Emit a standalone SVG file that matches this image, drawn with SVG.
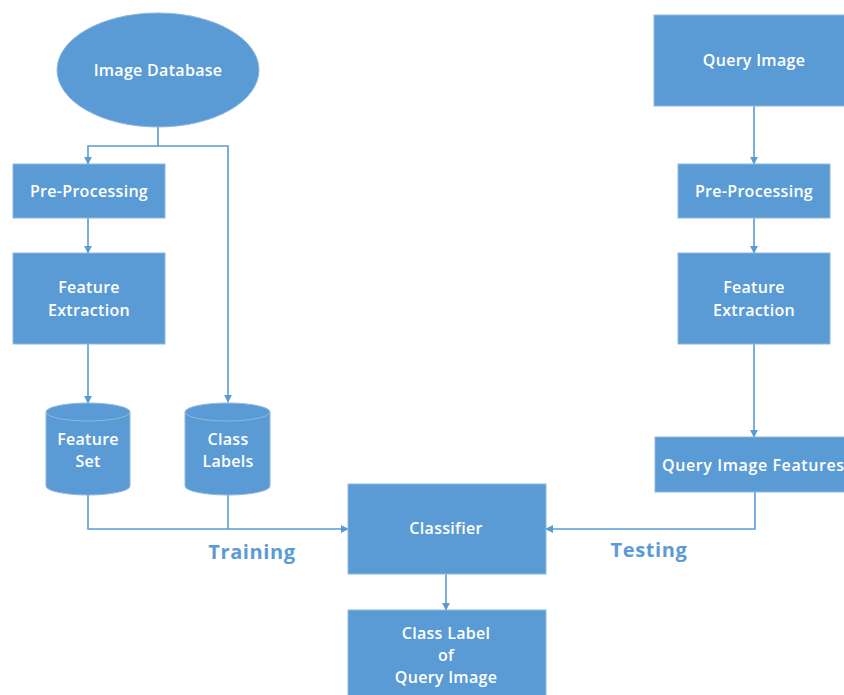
<svg xmlns="http://www.w3.org/2000/svg" width="844" height="695" viewBox="0 0 844 695">
<style>
.n{fill:#5b9bd5;stroke:#8fb8e0;stroke-width:1}
.t{fill:#ffffff;font-family:"Open Sans","Liberation Sans",sans-serif;font-size:16px;font-weight:600;letter-spacing:0.3px;text-anchor:middle}
.c{fill:none;stroke:#5b9bd5;stroke-width:1.6}
.l{fill:#5b9bd5;font-family:"Open Sans","Liberation Sans",sans-serif;font-size:20px;font-weight:700;letter-spacing:0.6px;text-anchor:middle}
</style>
<defs>
<marker id="a" viewBox="0 0 10 10" refX="9" refY="5" markerWidth="8" markerHeight="8" markerUnits="userSpaceOnUse" orient="auto">
<path d="M0,0 L10,5 L0,10 z" fill="#5b9bd5"/>
</marker>
</defs>
<rect width="844" height="695" fill="#ffffff"/>
<g id="connectors">
<path class="c" d="M158,127 V146 H88 V164" marker-end="url(#a)"/>
<path class="c" d="M158,146 H228 V402" marker-end="url(#a)"/>
<path class="c" d="M88,218 V253" marker-end="url(#a)"/>
<path class="c" d="M88,344 V403" marker-end="url(#a)"/>
<path class="c" d="M88,494 V529 H348" marker-end="url(#a)"/>
<path class="c" d="M228,494 V529"/>
<path class="c" d="M754,106 V164" marker-end="url(#a)"/>
<path class="c" d="M754,218 V253" marker-end="url(#a)"/>
<path class="c" d="M754,344 V437" marker-end="url(#a)"/>
<path class="c" d="M755,492 V529 H546" marker-end="url(#a)"/>
<path class="c" d="M446,574 V610" marker-end="url(#a)"/>
</g>
<g id="image-database">
<ellipse class="n" cx="158" cy="70" rx="101" ry="57"/>
<text class="t" x="158" y="76">Image Database</text>
</g>
<g id="pre-processing-1">
<rect class="n" x="13" y="164" width="152" height="54"/>
<text class="t" x="89" y="197">Pre-Processing</text>
</g>
<g id="feature-extraction-1">
<rect class="n" x="13" y="253" width="152" height="91"/>
<text class="t" x="89" y="293">Feature</text>
<text class="t" x="89" y="316">Extraction</text>
</g>
<g id="feature-set">
<path class="n" d="M46,412 A42,9 0 0 1 130,412 V486 A42,9 0 0 1 46,486 Z"/>
<path d="M46,412 A42,9 0 0 0 130,412" fill="none" stroke="#8fb8e0" stroke-width="1"/>
<text class="t" x="88" y="445">Feature</text>
<text class="t" x="88" y="467">Set</text>
</g>
<g id="class-labels">
<path class="n" d="M185,412 A42.5,9 0 0 1 270,412 V486 A42.5,9 0 0 1 185,486 Z"/>
<path d="M185,412 A42.5,9 0 0 0 270,412" fill="none" stroke="#8fb8e0" stroke-width="1"/>
<text class="t" x="228" y="445">Class</text>
<text class="t" x="228" y="467">Labels</text>
</g>
<g id="query-image">
<rect class="n" x="654" y="15" width="195" height="91"/>
<text class="t" x="754" y="66">Query Image</text>
</g>
<g id="pre-processing-2">
<rect class="n" x="678" y="164" width="152" height="54"/>
<text class="t" x="754" y="197">Pre-Processing</text>
</g>
<g id="feature-extraction-2">
<rect class="n" x="678" y="253" width="152" height="91"/>
<text class="t" x="754" y="293">Feature</text>
<text class="t" x="754" y="316">Extraction</text>
</g>
<g id="query-image-features">
<rect class="n" x="655" y="437" width="195" height="55"/>
<text class="t" x="662" y="471" style="text-anchor:start;letter-spacing:0.6px">Query Image Features</text>
</g>
<g id="classifier">
<rect class="n" x="348" y="484" width="198" height="90"/>
<text class="t" x="446" y="534">Classifier</text>
</g>
<g id="class-label-of-query-image">
<rect class="n" x="348" y="610" width="198" height="90"/>
<text class="t" x="446" y="639">Class Label</text>
<text class="t" x="446" y="661">of</text>
<text class="t" x="446" y="683">Query Image</text>
</g>
<g id="labels">
<text class="l" x="252" y="559">Training</text>
<text class="l" x="649" y="557">Testing</text>
</g>
</svg>
